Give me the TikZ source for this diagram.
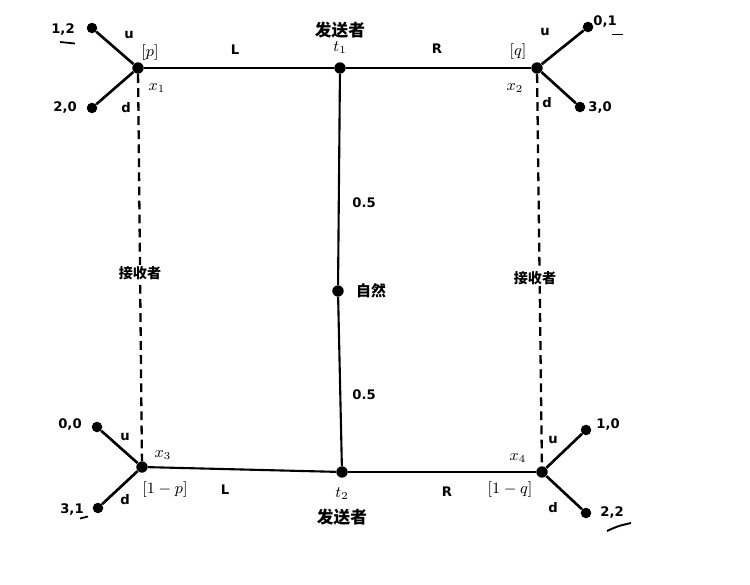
\documentclass[tikz,border=0pt]{standalone}
\usepackage{fontspec}
\setmainfont{DejaVu Sans}
\newfontfamily\cjk{Noto Sans CJK SC}
\usepackage{amsmath}

\tikzset{
  dec/.style={shape=circle,fill=black,inner sep=0pt,minimum size=6.5pt},
  leaf/.style={shape=circle,fill=black,inner sep=0pt,minimum size=6pt},
  pay/.style={font=\bfseries\fontsize{7.5}{9}\selectfont},
  act/.style={font=\bfseries\fontsize{7.5}{9}\selectfont},
  mlbl/.style={font=\fontsize{9}{11}\selectfont},
  role/.style={font=\cjk\bfseries\fontsize{9.5}{11}\selectfont},
  recv/.style={font=\cjk\bfseries\fontsize{8}{10}\selectfont,fill=white,inner sep=1pt},
  branch/.style={line width=1.5pt},
  main/.style={line width=1.2pt},
  info/.style={line width=1.3pt,dash pattern=on 5pt off 3pt}
}

\begin{document}
\begin{tikzpicture}
\useasboundingbox (0,0) rectangle (15,-11.7);

% decision nodes
\node[dec] (t1) at (6.8,-1.36) {};
\node[dec] (n) at (6.76,-5.82) {};
\node[dec] (t2) at (6.84,-9.44) {};
\node[dec] (x1) at (2.76,-1.36) {};
\node[dec] (x2) at (10.74,-1.36) {};
\node[dec] (x3) at (2.84,-9.34) {};
\node[dec] (x4) at (10.84,-9.44) {};

% end nodes
\node[leaf] (x1u) at (1.84,-0.56) {};
\node[leaf] (x1d) at (1.84,-2.16) {};
\node[leaf] (x2u) at (11.76,-0.54) {};
\node[leaf] (x2d) at (11.6,-2.14) {};
\node[leaf] (x3u) at (1.94,-8.54) {};
\node[leaf] (x3d) at (1.96,-10.16) {};
\node[leaf] (x4u) at (11.72,-8.6) {};
\node[leaf] (x4d) at (11.72,-10.26) {};

\path[main] (n) edge (t1);
\path[main] (n) edge (t2);
\path[main] (t1) edge (x1);
\path[main] (t1) edge (x2);
\path[main] (t2) edge (x3);
\path[main] (t2) edge (x4);
\path[branch] (x1) edge (x1u);
\path[branch] (x1) edge (x1d);
\path[branch] (x2) edge (x2u);
\path[branch] (x2) edge (x2d);
\path[branch] (x3) edge (x3u);
\path[branch] (x3) edge (x3d);
\path[branch] (x4) edge (x4u);
\path[branch] (x4) edge (x4d);
\path[info] (x1) edge (x3);
\path[info] (x2) edge (x4);

% players
\node[role] (s1) at (6.8,-0.6) {发送者};
\node[role] (s2) at (6.84,-10.34) {发送者};
\node[role,font=\cjk\bfseries\fontsize{8.5}{10}\selectfont] (nat) at (7.42,-5.82) {自然};
\node[recv] (r1) at (2.8,-5.46) {接收者};
\node[recv] (r2) at (10.7,-5.56) {接收者};

% math labels
\node[mlbl] (lt1) at (6.8,-0.96) {$t_1$};
\node[mlbl] (lt2) at (6.84,-9.88) {$t_2$};
\node[mlbl] (lx1) at (3.14,-1.76) {$x_1$};
\node[mlbl] (lx2) at (10.3,-1.76) {$x_2$};
\node[mlbl] (lx3) at (3.26,-9.1) {$x_3$};
\node[mlbl] (lx4) at (10.36,-9.16) {$x_4$};
\node[mlbl] (bp) at (3.0,-1.06) {$[p]$};
\node[mlbl] (bq) at (10.36,-1.04) {$[q]$};
\node[mlbl] (bp2) at (3.3,-9.8) {$[1-p]$};
\node[mlbl] (bq2) at (10.2,-9.8) {$[1-q]$};

% actions and probabilities
\node[act] (aL1) at (4.7,-1.0) {L};
\node[act] (aR1) at (8.74,-0.98) {R};
\node[act] (aL2) at (4.5,-9.8) {L};
\node[act] (aR2) at (8.94,-9.84) {R};
\node[act] (pr1) at (7.28,-4.06) {0.5};
\node[act] (pr2) at (7.28,-7.9) {0.5};
\node[act] (u1) at (2.58,-0.7) {u};
\node[act] (d1) at (2.52,-2.16) {d};
\node[act] (u2) at (10.9,-0.64) {u};
\node[act] (d2) at (10.94,-2.06) {d};
\node[act] (u3) at (2.5,-8.74) {u};
\node[act] (d3) at (2.5,-10.0) {d};
\node[act] (u4) at (11.06,-8.8) {u};
\node[act] (d4) at (11.06,-10.16) {d};

% payoffs
\node[pay] (p1u) at (1.26,-0.6) {1,2};
\node[pay] (p1d) at (1.3,-2.16) {2,0};
\node[pay] (p2u) at (12.1,-0.44) {0,1};
\node[pay] (p2d) at (12.0,-2.16) {3,0};
\node[pay] (p3u) at (1.4,-8.5) {0,0};
\node[pay] (p3d) at (1.44,-10.2) {3,1};
\node[pay] (p4u) at (12.16,-8.5) {1,0};
\node[pay] (p4d) at (12.24,-10.26) {2,2};

% pen marks
\draw[line width=1pt] (1.2,-0.84) -- (1.5,-0.87);
\draw[line width=1pt] (12.24,-0.69) -- (12.46,-0.69);
\draw[line width=1pt] (1.6,-10.37) -- (1.76,-10.33);
\draw[line width=1.1pt] (12.14,-10.62) .. controls (12.36,-10.52) .. (12.62,-10.46);
\end{tikzpicture}
\end{document}
